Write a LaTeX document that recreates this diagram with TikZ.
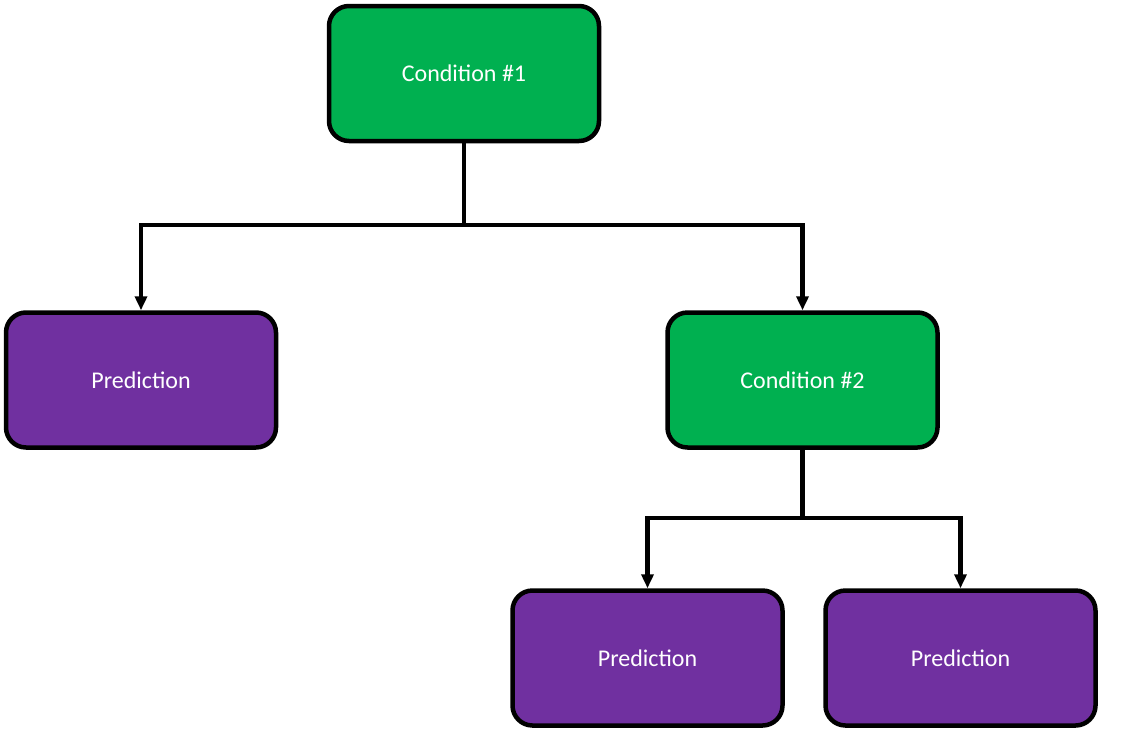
\documentclass[tikz,border=0pt]{standalone}
\usepackage{fontspec}
\setmainfont{Carlito}
\usetikzlibrary{arrows.meta}
\definecolor{cgreen}{HTML}{00B050}
\definecolor{cpurple}{HTML}{7030A0}
\tikzset{
  box/.style={draw=black, line width=4.5pt, rounded corners=20pt, minimum width=270pt, minimum height=135pt, text=white, font=\fontsize{24pt}{28pt}\selectfont, inner sep=0pt},
  cond/.style={box, fill=cgreen},
  pred/.style={box, fill=cpurple},
  arr/.style={line width=4.5pt, -{Triangle[length=14pt,width=12pt]}}
}
\begin{document}
\begin{tikzpicture}[x=1pt,y=1pt]
\useasboundingbox (0,0) rectangle (1140,-732);
\node[cond] (c1) at (464,-73.5) {Condition \#1};
\node[pred] (p1) at (141,-380) {Prediction};
\node[cond] (c2) at (802.5,-380) {Condition \#2};
\node[pred] (p2) at (647.5,-658) {Prediction};
\node[pred] (p3) at (960.5,-658) {Prediction};
\coordinate (j1) at (464,-225);
\coordinate (j2) at (802.5,-518);
\draw[line width=4.5pt] (c1.south) -- (j1);
\draw[arr] (j1) -| (p1.north);
\draw[arr] (j1) -| (c2.north);
\draw[line width=4.5pt] (c2.south) -- (j2);
\draw[arr] (j2) -| (p2.north);
\draw[arr] (j2) -| (p3.north);
\end{tikzpicture}
\end{document}
